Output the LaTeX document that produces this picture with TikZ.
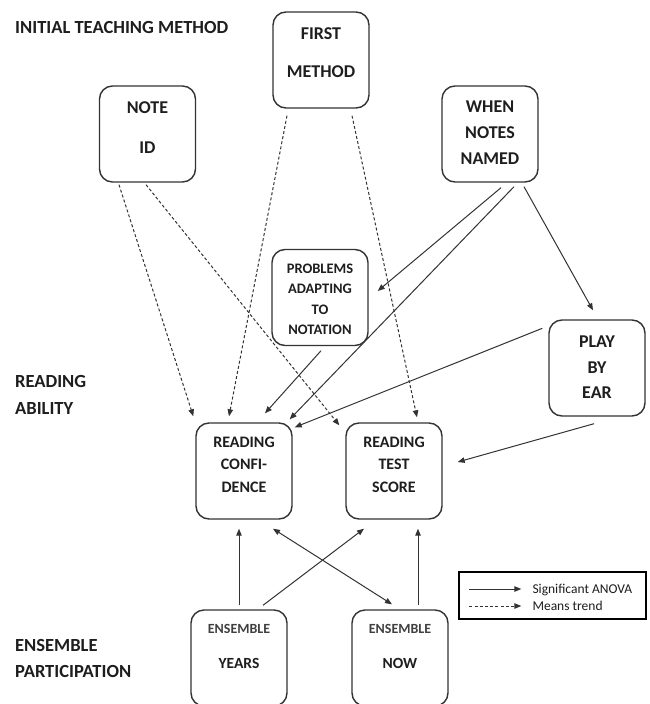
\documentclass[tikz,border=0pt]{standalone}
\usepackage{fontspec}
\setmainfont{Carlito}
\usetikzlibrary{arrows.meta,calc}
\definecolor{ink}{HTML}{1E1E1E}
\definecolor{edge}{HTML}{333333}
\newcommand\boxtxt[4]{\parbox[c][96pt][t]{96pt}{\centering\bfseries\fontsize{#1}{#2}\selectfont\vspace*{#3}#4\par}}
\tikzset{
  box/.style={draw=edge, line width=1.4pt, rounded corners=13pt, inner sep=0pt, text=ink},
  conn/.style={draw=edge, line width=1pt, -{Triangle[length=7pt,width=5.5pt]}},
  trend/.style={conn, dash pattern=on 3pt off 2.2pt},
  both/.style={draw=edge, line width=1pt, {Triangle[length=7pt,width=5.5pt]}-{Triangle[length=7pt,width=5.5pt]}},
  lab/.style={font=\bfseries\fontsize{18.5}{27}\selectfont, text=ink, align=left, anchor=west, inner sep=0pt},
  legtxt/.style={font=\fontsize{13.5}{16}\selectfont, text=ink, anchor=base west, inner sep=0pt},
  legbox/.style={draw=black, line width=1.4pt, minimum width=187pt, minimum height=47pt, inner sep=0pt}
}
\begin{document}
\begin{tikzpicture}[x=1pt,y=-1pt]
\clip (0,0) rectangle (649,704);
\fill[white] (0,0) rectangle (649,704);

% side labels
\node[lab] (l1) at (15,27) {INITIAL TEACHING METHOD};
\node[lab] (l2) at (15,394.5) {READING\\ABILITY};
\node[lab, font=\bfseries\fontsize{18.5}{26}\selectfont] (l3) at (15,658) {ENSEMBLE\\PARTICIPATION};

% boxes
\node[box] (first) at (321,60) {\boxtxt{18}{38}{15.3pt}{FIRST\\METHOD}};
\node[box] (note) at (147.5,134) {\boxtxt{18}{40}{15.3pt}{NOTE\\ID}};
\node[box] (when) at (490,134) {\boxtxt{18}{26}{15.3pt}{WHEN\\NOTES\\NAMED}};
\node[box] (prob) at (320,297.5) {\boxtxt{14.5}{20.3}{14.4pt}{PROBLEMS\\ADAPTING\\TO\\NOTATION}};
\node[box] (play) at (597,368) {\boxtxt{18}{25.5}{16.3pt}{PLAY\\BY\\EAR}};
\node[box] (rc) at (244,471) {\boxtxt{16}{22.5}{13.9pt}{READING\\CONFI-\\DENCE}};
\node[box] (rts) at (394,471) {\boxtxt{16}{22.5}{13.9pt}{READING\\TEST\\SCORE}};
\node[box] (years) at (239,658) {\boxtxt{14}{34.6}{14.6pt}{{\color{ink!85}\fontsize{14}{34.6}\selectfont ENSEMBLE}\\\fontsize{15.5}{34.6}\selectfont YEARS}};
\node[box] (now) at (400,658) {\boxtxt{14}{34.6}{14.6pt}{{\color{ink!85}\fontsize{14}{34.6}\selectfont ENSEMBLE}\\\fontsize{15.5}{34.6}\selectfont NOW}};

% means trend (dashed)
\draw[trend] ($(note.south)+(-28.5,2)$) -- ($(rc.north west)+(-2,-6)$);
\draw[trend] ($(note.south)+(-1.5,2)$) -- ($(rts.north west)+(-6,3)$);
\draw[trend] ($(first.south)+(-34,7)$) -- ($(rc.north)+(-15,-6)$);
\draw[trend] ($(first.south)+(31,7)$) -- ($(rts.north)+(23,-5)$);

% significant (solid)
\draw[conn] ($(when.south)+(11,5)$) -- ($(prob.east)+(9,-6.5)$);
\draw[conn] ($(when.south)+(24,4)$) -- ($(rc.north east)+(-3,-3)$);
\draw[conn] ($(when.south)+(34,4)$) -- ($(play.north)+(-4,-9)$);
\draw[conn] ($(prob.south)+(1,4.5)$) -- ($(rc.north)+(21,-9)$);
\draw[conn] ($(play.north west)+(-6,9)$) -- ($(rc.north east)+(2,5)$);
\draw[conn] ($(play.south)+(-3,7)$) -- ($(rts.east)+(15,-9)$);
\draw[conn] ($(years.north)+(0,-4)$) -- ($(rc.south)+(-5,9)$);
\draw[conn] ($(years.north)+(24,-4)$) -- ($(rts.south)+(-30,9)$);
\draw[both] ($(rc.south)+(29,9)$) -- ($(now.north)+(-8,-5)$);
\draw[conn] ($(now.north)+(18,-4)$) -- ($(rts.south)+(24,9)$);

% legend
\node[legbox] (legend) at (552.5,595.5) {};
\coordinate (sa) at ($(legend.west)+(11,-6.5)$);
\coordinate (sb) at ($(legend.west)+(63,-6.5)$);
\coordinate (da) at ($(legend.west)+(11,10.5)$);
\coordinate (db) at ($(legend.west)+(63,10.5)$);
\draw[conn] (sa) -- (sb);
\draw[trend] (da) -- (db);
\node[legtxt] (lt1) at ($(legend.west)+(74,-2)$) {Significant ANOVA};
\node[legtxt] (lt2) at ($(legend.west)+(74,15)$) {Means trend};
\end{tikzpicture}
\end{document}
